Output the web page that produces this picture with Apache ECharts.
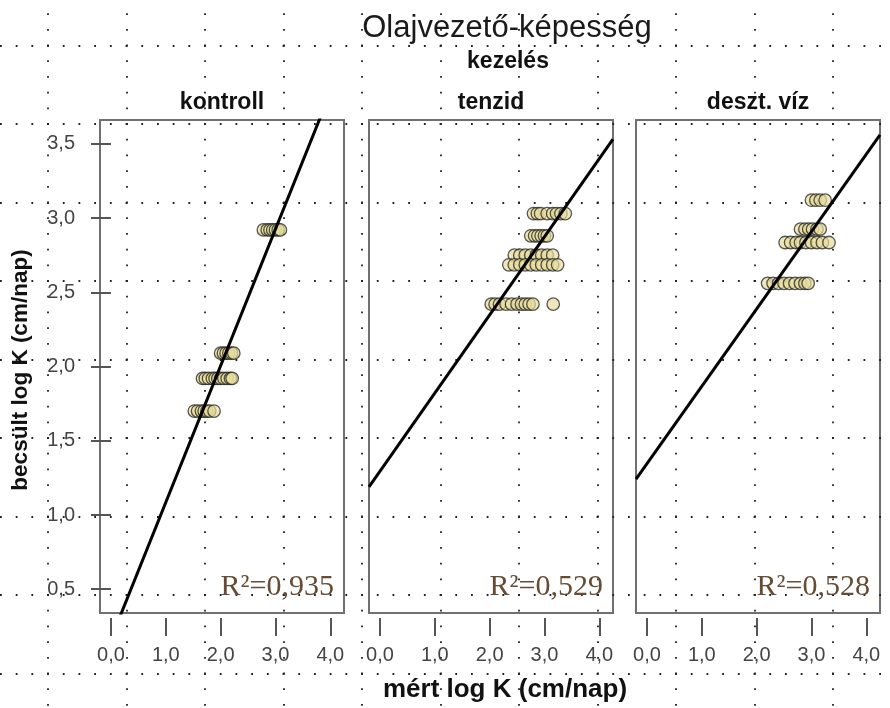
<!DOCTYPE html>
<html><head><meta charset="utf-8">
<script src="https://cdn.jsdelivr.net/npm/echarts@6/dist/echarts.min.js"></script>
<style>html,body{margin:0;padding:0;background:#fff}#c{width:890px;height:708px}</style>
</head><body><div id="c"></div><script>
// ---- data ----
const chartTitle = 'Olajvezető-képesség';
const facetTitle = 'kezelés';
const panelNames = ['kontroll', 'tenzid', 'deszt. víz'];
const r2Labels = ['R²=0,935', 'R²=0,529', 'R²=0,528'];
const xAxisTitle = 'mért log K (cm/nap)';
const yAxisTitle = 'becsült log K (cm/nap)';
const xTicks = [0, 1, 2, 3, 4];
const yTicks = [0.5, 1, 1.5, 2, 2.5, 3, 3.5];
const fitIntercept = [0.165, 1.295, 1.346];
const fitSlope = [0.92, 0.526, 0.521];

const kontrollMeasured = [2.78,2.85,2.9,2.95,3.0,3.05,3.09, 2.0,2.05,2.1,2.15,2.2,2.24, 1.67,1.72,1.78,1.85,1.9,1.95,2.0,2.06,2.12,2.18,2.21, 1.52,1.58,1.65,1.7,1.75,1.8,1.88];
const kontrollEstimated = [2.92,2.92,2.92,2.92,2.92,2.92,2.92, 2.09,2.09,2.09,2.09,2.09,2.09, 1.92,1.92,1.92,1.92,1.92,1.92,1.92,1.92,1.92,1.92,1.92, 1.70,1.70,1.70,1.70,1.70,1.70,1.70];
const tenzidMeasured = [2.8,2.87,2.93,3.05,3.15,3.22,3.3,3.38, 2.75,2.82,2.88,2.94,3.0,3.05, 2.45,2.55,2.65,2.75,2.85,2.95,3.05,3.15, 2.35,2.45,2.55,2.65,2.75,2.85,2.95,3.05,3.15,3.24, 2.03,2.1,2.18,2.3,2.4,2.5,2.58,2.65,2.72,2.79,3.16];
const tenzidEstimated = [3.03,3.03,3.03,3.03,3.03,3.03,3.03,3.03, 2.88,2.88,2.88,2.88,2.88,2.88, 2.75,2.75,2.75,2.75,2.75,2.75,2.75,2.75, 2.685,2.685,2.685,2.685,2.685,2.685,2.685,2.685,2.685,2.685, 2.42,2.42,2.42,2.42,2.42,2.42,2.42,2.42,2.42,2.42,2.42];
const desztMeasured = [3.0,3.08,3.16,3.25, 2.8,2.88,2.95,3.02,3.1,3.16, 2.52,2.62,2.72,2.8,2.9,3.0,3.1,3.2,3.32, 2.2,2.3,2.4,2.5,2.6,2.7,2.8,2.88,2.94];
const desztEstimated = [3.12,3.12,3.12,3.12, 2.925,2.925,2.925,2.925,2.925,2.925, 2.835,2.835,2.835,2.835,2.835,2.835,2.835,2.835,2.835, 2.56,2.56,2.56,2.56,2.56,2.56,2.56,2.56,2.56];

// ---- layout ----
const FONT = '"Liberation Sans", Arial, sans-serif';
const SERIF = '"Liberation Serif", "Times New Roman", serif';
const PANEL_LEFT = [100, 369, 636];
const PANEL_W = 244, PANEL_TOP = 120, PANEL_H = 493;
const X_MIN = -0.2, X_MAX = 4.25, Y_MIN = 0.34, Y_MAX = 3.66;
const fmt = v => v.toFixed(1).replace('.', ',');

const measured = [kontrollMeasured, tenzidMeasured, desztMeasured];
const estimated = [kontrollEstimated, tenzidEstimated, desztEstimated];

const hidden = {axisLine: {show: false}, axisTick: {show: false}, axisLabel: {show: false}, splitLine: {show: false}};
const grids = [], xAxes = [], yAxes = [], series = [], graphics = [];
for (let i = 0; i < 3; i++) {
  grids.push({left: PANEL_LEFT[i], top: PANEL_TOP, width: PANEL_W, height: PANEL_H, outerBoundsMode: 'none',
    show: true, borderColor: '#707070', borderWidth: 2, backgroundColor: 'rgba(0,0,0,0)', containLabel: false});
  xAxes.push({gridIndex: i, type: 'value', min: X_MIN, max: X_MAX, offset: 5,
    axisLine: {show: false}, splitLine: {show: false},
    axisTick: {show: true, customValues: xTicks, length: 18, lineStyle: {color: '#555', width: 2}},
    axisLabel: {customValues: xTicks, formatter: fmt, margin: 27, fontSize: 20, color: '#444', fontFamily: FONT}});
  yAxes.push({gridIndex: i, type: 'value', min: Y_MIN, max: Y_MAX,
    axisLine: {show: false}, splitLine: {show: false},
    axisTick: {show: i === 0, customValues: yTicks, length: 20, lineStyle: {color: '#555', width: 2}},
    axisLabel: {show: i === 0, customValues: yTicks, formatter: fmt, margin: 25, fontSize: 20, color: '#444', fontFamily: FONT}});
  series.push({type: 'scatter', xAxisIndex: i, yAxisIndex: i, symbolSize: 12.5, z: 3,
    data: measured[i].map((x, k) => [x, estimated[i][k]]),
    itemStyle: {color: 'rgba(230,220,156,0.85)', borderColor: 'rgba(25,25,25,0.9)', borderWidth: 1.3}});
  series.push({type: 'line', xAxisIndex: i, yAxisIndex: i, symbol: 'none', clip: true, z: 4,
    data: [[X_MIN, fitIntercept[i] + fitSlope[i] * X_MIN], [X_MAX, fitIntercept[i] + fitSlope[i] * X_MAX]],
    lineStyle: {color: '#000', width: 3}});
  graphics.push({type: 'text', x: PANEL_LEFT[i] + PANEL_W / 2, y: 103, z: 10,
    style: {text: panelNames[i], align: 'center', verticalAlign: 'middle', font: 'bold 23px ' + FONT, fill: '#111'}});
  graphics.push({type: 'text', x: PANEL_LEFT[i] + PANEL_W - 10, y: 587, z: 10,
    style: {text: r2Labels[i], align: 'right', verticalAlign: 'middle', font: '30px ' + SERIF, fill: '#664c35'}});
}
// background dotted layout grid: vertical lines (grid 3) and horizontal lines (grid 4)
grids.push({left: 48, top: 0, width: 785, height: 708, show: false, outerBoundsMode: 'none'});
grids.push({left: 0, top: 45.5, width: 890, height: 628, show: false, outerBoundsMode: 'none'});
const dotV = {show: true, lineStyle: {type: [1.8, 13.9], dashOffset: 2.5, color: '#222', width: 1.8}};
const dotH = {show: true, lineStyle: {type: [1.8, 13.9], dashOffset: 0, color: '#222', width: 1.8}};
xAxes.push(Object.assign({gridIndex: 3, type: 'value', min: 0, max: 10, interval: 1, z: 0}, hidden, {splitLine: dotV}));
yAxes.push(Object.assign({gridIndex: 3, type: 'value', min: 0, max: 1}, hidden));
xAxes.push(Object.assign({gridIndex: 4, type: 'value', min: 0, max: 1}, hidden));
yAxes.push(Object.assign({gridIndex: 4, type: 'value', min: 0, max: 8, interval: 1, z: 0}, hidden, {splitLine: dotH}));

graphics.push({type: 'text', x: 507, y: 28, z: 10,
  style: {text: chartTitle, align: 'center', verticalAlign: 'middle', font: '31px ' + FONT, fill: '#1a1a1a'}});
graphics.push({type: 'text', x: 508, y: 62, z: 10,
  style: {text: facetTitle, align: 'center', verticalAlign: 'middle', font: 'bold 23px ' + FONT, fill: '#111'}});
graphics.push({type: 'text', x: 505, y: 690, z: 10,
  style: {text: xAxisTitle, align: 'center', verticalAlign: 'middle', font: 'bold 26px ' + FONT, fill: '#111'}});
graphics.push({type: 'text', x: 21, y: 370, rotation: Math.PI / 2, z: 10,
  style: {text: yAxisTitle, align: 'center', verticalAlign: 'middle', font: 'bold 22.5px ' + FONT, fill: '#111'}});

const chart = echarts.init(document.getElementById('c'), null, {renderer: 'canvas'});
chart.setOption({
  animation: false,
  backgroundColor: '#fff',
  grid: grids, xAxis: xAxes, yAxis: yAxes, series: series, graphic: graphics
});
</script></body></html>
